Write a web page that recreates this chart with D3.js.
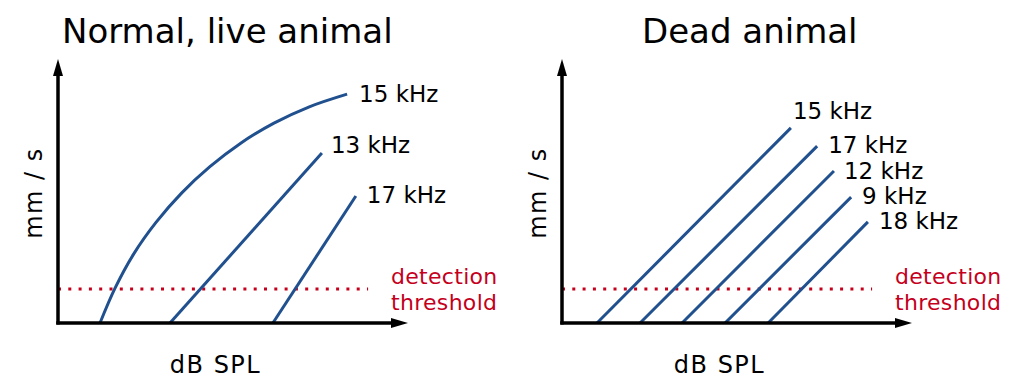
<!DOCTYPE html>
<html>
<head>
<meta charset="utf-8">
<script src="https://cdn.jsdelivr.net/npm/d3@7/dist/d3.min.js"></script>
<style>
  html, body { margin: 0; padding: 0; background: #fff; }
  svg { display: block; }
  text { font-family: "DejaVu Sans", sans-serif; }
</style>
</head>
<body>
<svg id="chart" width="1024" height="384"></svg>
<script>
// ---------- data (arbitrary units 0..100 on each axis) ----------
const panelTitles = ["Normal, live animal", "Dead animal"];
const xAxisLabel = "dB SPL";
const yAxisLabel = "mm / s";
const thresholdLabel = ["detection", "threshold"];
const thresholdLevel = 12.9;

const liveFreqs = ["15 kHz", "13 kHz", "17 kHz"];
const liveX = [
  [12.0, 16.3, 21.6, 28.0, 35.3, 43.4, 52.2, 61.7, 71.8, 82.6],
  [32, 75.4],
  [61.4, 85.1]
];
const liveY = [
  [0, 13.2, 26.1, 38.1, 49.2, 59.2, 68.1, 75.7, 81.9, 86.7],
  [0, 64.4],
  [0, 48.1]
];

const deadFreqs = ["15 kHz", "17 kHz", "12 kHz", "9 kHz", "18 kHz"];
const deadX = [
  [10, 65.4],
  [22.3, 72.9],
  [34.3, 77.7],
  [46.6, 82.6],
  [58.9, 87.4]
];
const deadY = [
  [0, 73.9],
  [0, 67],
  [0, 57.6],
  [0, 47.7],
  [0, 38.3]
];

// ---------- layout / style ----------
const lineColor = "#21508f";
const redColor = "#c4001c";
const panels = [
  { x0: 58, freqs: liveFreqs, xs: liveX, ys: liveY,
    labelOff: [[12, 8], [9, 0], [11, 7]], titleX: 62, dotEnd: 88.6, thrX: 391 },
  { x0: 562, freqs: deadFreqs, xs: deadX, ys: deadY,
    labelOff: [[2, -9], [11, 7], [10, 8], [11, 7], [11, 7]], titleX: 642, dotEnd: 88.6, thrX: 895 }
];
const axisY = 323, axisTop = 59, axisLen = 350;

const svg = d3.select("#chart");

panels.forEach((p, pi) => {
  const x = d3.scaleLinear().domain([0, 100]).range([p.x0, p.x0 + axisLen]);
  const y = d3.scaleLinear().domain([0, 100]).range([axisY, axisTop]);
  const g = svg.append("g");

  // title
  g.append("text")
    .attr("x", p.titleX).attr("y", 43)
    .attr("font-size", 34).attr("fill", "#000")
    .text(panelTitles[pi]);

  // threshold dotted line
  g.append("line")
    .attr("x1", x(0)).attr("x2", x(p.dotEnd))
    .attr("y1", y(thresholdLevel)).attr("y2", y(thresholdLevel))
    .attr("stroke", redColor).attr("stroke-width", 3)
    .attr("stroke-dasharray", "3 7.3");

  g.append("text")
    .attr("x", p.thrX).attr("y", 284)
    .attr("font-size", 22).attr("letter-spacing", 0.3).attr("fill", redColor)
    .text(thresholdLabel[0]);
  g.append("text")
    .attr("x", p.thrX).attr("y", 310)
    .attr("font-size", 22).attr("letter-spacing", 0.3).attr("fill", redColor)
    .text(thresholdLabel[1]);

  // curves
  const line = d3.line()
    .x(d => x(d[0])).y(d => y(d[1]))
    .curve(d3.curveCatmullRom.alpha(0.5));

  p.freqs.forEach((f, i) => {
    const pts = p.xs[i].map((v, j) => [v, p.ys[i][j]]);
    g.append("path")
      .attr("d", line(pts))
      .attr("fill", "none")
      .attr("stroke", lineColor)
      .attr("stroke-width", 3);
    const end = pts[pts.length - 1];
    g.append("text")
      .attr("x", x(end[0]) + p.labelOff[i][0])
      .attr("y", y(end[1]) + p.labelOff[i][1])
      .attr("font-size", 23).attr("fill", "#000")
      .text(f);
  });

  // axes
  g.append("line")
    .attr("x1", x(0)).attr("x2", x(0))
    .attr("y1", axisY + 1.5).attr("y2", axisTop + 15)
    .attr("stroke", "#000").attr("stroke-width", 3.5);
  g.append("path")
    .attr("d", `M${x(0)},${axisTop} L${x(0) - 5},${axisTop + 17} L${x(0) + 5},${axisTop + 17} Z`)
    .attr("fill", "#000");

  g.append("line")
    .attr("x1", x(0) - 1.75).attr("x2", x(100) - 15)
    .attr("y1", axisY).attr("y2", axisY)
    .attr("stroke", "#000").attr("stroke-width", 3.5);
  g.append("path")
    .attr("d", `M${x(100)},${axisY} L${x(100) - 17},${axisY - 5} L${x(100) - 17},${axisY + 5} Z`)
    .attr("fill", "#000");

  // axis labels
  g.append("text")
    .attr("x", x(45)).attr("y", 373)
    .attr("text-anchor", "middle")
    .attr("font-size", 24).attr("letter-spacing", 1.5).attr("fill", "#000")
    .text(xAxisLabel);
  g.append("text")
    .attr("transform", `translate(${x(0) - 16},193) rotate(-90)`)
    .attr("text-anchor", "middle")
    .attr("font-size", 24).attr("letter-spacing", 1.5).attr("fill", "#000")
    .text(yAxisLabel);
});
</script>
</body>
</html>
